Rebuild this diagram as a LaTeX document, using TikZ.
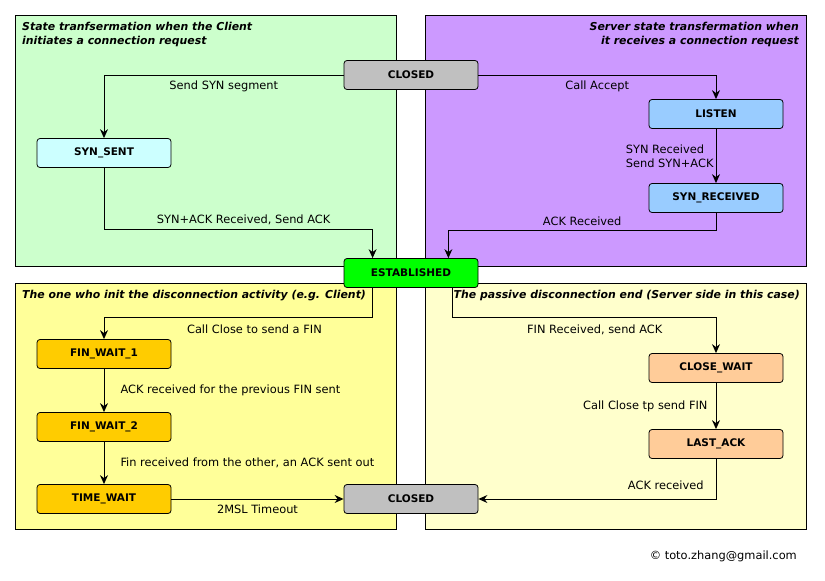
\documentclass[tikz,border=0pt]{standalone}
\usepackage{fontspec}
\setmainfont{DejaVu Sans}
\usetikzlibrary{arrows.meta}
\definecolor{clientgreen}{HTML}{CCFFCC}
\definecolor{serverpurple}{HTML}{CC99FF}
\definecolor{activeyellow}{HTML}{FFFF99}
\definecolor{passiveyellow}{HTML}{FFFFCC}
\definecolor{closedgray}{HTML}{C0C0C0}
\definecolor{sentcyan}{HTML}{CCFFFF}
\definecolor{listenblue}{HTML}{99CCFF}
\definecolor{estgreen}{HTML}{00FF00}
\definecolor{finorange}{HTML}{FFCC00}
\definecolor{waitpeach}{HTML}{FFCC99}

\begin{document}
\begin{tikzpicture}[x=1pt, y=-1pt,
		panel/.style={draw=black, line width=1pt},
		state/.style={draw=black, line width=0.8pt, rounded corners=3pt, minimum width=134pt, minimum height=29pt, inner sep=0pt, font=\bfseries\fontsize{10.5}{12}\selectfont},
		flow/.style={-{Stealth[length=9pt, width=8pt, inset=3pt]}, line width=1pt},
		lbl/.style={inner sep=2pt, font=\fontsize{11.4}{13.5}\selectfont},
		caption/.style={inner sep=0pt, font=\bfseries\itshape\fontsize{10.9}{14}\selectfont}]
			%%%%% START %%%%%
			
			\useasboundingbox (0,0) rectangle (825,581);
			
			\draw[panel, fill=clientgreen] (15,15) rectangle (396,266);
			\draw[panel, fill=serverpurple] (425,15) rectangle (806,266);
			\draw[panel, fill=activeyellow] (15,283) rectangle (396,529);
			\draw[panel, fill=passiveyellow] (425,283) rectangle (806,529);
			
			\node[caption, anchor=north west, align=left] (clientTitle) at (22,22) {State tranfsermation when the Client\\initiates a connection request};
			\node[caption, anchor=north east, align=right] (serverTitle) at (799,22) {Server state transfermation when\\it receives a connection request};
			\node[caption, anchor=north west] (activeTitle) at (22,290) {The one who init the disconnection activity (e.g. Client)};
			\node[caption, anchor=north east] (passiveTitle) at (800,290) {The passive disconnection end (Server side in this case)};
			
			\node[state, fill=closedgray] (closedTop) at (411,75) {CLOSED};
			\node[state, fill=sentcyan] (synSent) at (104,153) {SYN\_SENT};
			\node[state, fill=listenblue] (listen) at (716,114) {LISTEN};
			\node[state, fill=listenblue] (synRcvd) at (716,198) {SYN\_RECEIVED};
			\node[state, fill=estgreen] (estab) at (411,273) {ESTABLISHED};
			
			\node[state, fill=finorange] (finWait1) at (104,354) {FIN\_WAIT\_1};
			\node[state, fill=finorange] (finWait2) at (104,427) {FIN\_WAIT\_2};
			\node[state, fill=finorange] (timeWait) at (104,499) {TIME\_WAIT};
			\node[state, fill=closedgray] (closedBot) at (411,499) {CLOSED};
			\node[state, fill=waitpeach] (closeWait) at (716,368) {CLOSE\_WAIT};
			\node[state, fill=waitpeach] (lastAck) at (716,444) {LAST\_ACK};
			
			% connection set up
			\draw[flow] (closedTop.west) -| node[lbl, below=3pt, pos=0.25] {Send SYN segment} (synSent.north);
			\draw[flow] (closedTop.east) -| node[lbl, below=3pt, pos=0.25] {Call Accept} (listen.north);
			\draw[flow] (listen) -- node[lbl, left, align=left] {SYN Received\\Send SYN+ACK} (synRcvd);
			\draw[flow] (synSent.south) -- ++(0,62) -| node[lbl, above=3pt, pos=0.26] {SYN+ACK Received, Send ACK} ([xshift=29pt]estab.north west);
			\draw[flow] (synRcvd.south) -- ++(0,18) -| node[lbl, above=3pt, pos=0.25] {ACK Received} ([xshift=-30pt]estab.north east);
			
			% tear down
			\draw[flow] ([xshift=29pt]estab.south west) -- ++(0,30) -| node[lbl, below=4pt, pos=0.22] {Call Close to send a FIN} (finWait1.north);
			\draw[flow] ([xshift=-26pt]estab.south east) -- ++(0,30) -| node[lbl, below=4pt, pos=0.27] {FIN Received, send ACK} (closeWait.north);
			\draw[flow] (finWait1) -- node[lbl, right=14pt] {ACK received for the previous FIN sent} (finWait2);
			\draw[flow] (finWait2) -- node[lbl, right=14pt] {Fin received from the other, an ACK sent out} (timeWait);
			\draw[flow] (timeWait) -- node[lbl, below=3pt] {2MSL Timeout} (closedBot);
			\draw[flow] (closeWait) -- node[lbl, left=6pt] {Call Close tp send FIN} (lastAck);
			\draw[flow] (lastAck) |- node[lbl, pos=0.5, anchor=south east, xshift=-10pt, yshift=7pt] {ACK received} (closedBot);
			
			\node[lbl, anchor=east] (credit) at (799,556) {© toto.zhang@gmail.com};
			
			%%%%% END %%%%%
		\end{tikzpicture}
\end{document}
